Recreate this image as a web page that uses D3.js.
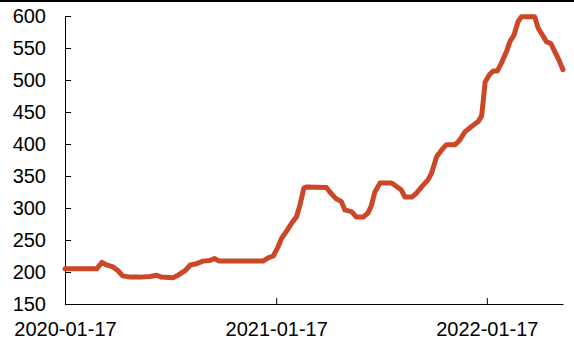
<!DOCTYPE html>
<html>
<head>
<meta charset="utf-8">
<script src="https://cdn.jsdelivr.net/npm/d3@7"></script>
<style>
  body { margin: 0; background: #fff; }
  text { font-family: "Liberation Sans", Arial, sans-serif; }
</style>
</head>
<body>
<div id="chart"></div>
<script>
const dates = [
  "2020-01-17","2020-03-12","2020-03-21","2020-03-29","2020-04-09","2020-04-18","2020-04-26",
  "2020-05-09","2020-05-26","2020-06-12","2020-06-24","2020-07-02","2020-07-22","2020-07-31",
  "2020-08-12","2020-08-21","2020-09-01","2020-09-12","2020-09-24","2020-10-02","2020-10-10",
  "2020-12-25","2021-01-03","2021-01-12","2021-01-20","2021-01-26","2021-02-04","2021-02-14",
  "2021-02-21","2021-02-27","2021-03-06","2021-03-11","2021-04-14","2021-04-20","2021-04-30",
  "2021-05-10","2021-05-16","2021-05-28","2021-06-05","2021-06-17","2021-06-25","2021-07-01",
  "2021-07-07","2021-07-16","2021-08-05","2021-08-16","2021-08-22","2021-08-28","2021-09-09",
  "2021-09-17","2021-09-26","2021-10-07","2021-10-13","2021-10-22","2021-10-31","2021-11-08",
  "2021-11-23","2021-11-30","2021-12-10","2021-12-21","2022-01-02","2022-01-08","2022-01-11",
  "2022-01-14","2022-01-22","2022-01-28","2022-02-04","2022-02-11","2022-02-20","2022-02-26",
  "2022-03-05","2022-03-12","2022-03-18","2022-04-10","2022-04-16","2022-04-25","2022-04-30",
  "2022-05-08","2022-05-15","2022-05-22","2022-05-29"
];
const values = [
  205,205,215,211,208,202,194,
  192,192,193,195,192,191,195,
  202,211,213,217,218,221,217,
  217,222,225,239,252,264,278,
  286,304,331,333,332,325,315,
  310,297,294,286,286,292,304,
  325,339,339,332,328,317,317,
  323,333,344,354,380,391,399,
  399,405,419,427,435,444,469,
  497,509,514,514,526,544,560,
  570,591,599,599,581,568,560,
  557,544,531,516
];
const yTicks = [150, 200, 250, 300, 350, 400, 450, 500, 550, 600];
const xTicks = ["2020-01-17", "2021-01-17", "2022-01-17"];

const parse = d3.timeParse("%Y-%m-%d");
const data = dates.map((d, i) => ({ date: parse(d), value: values[i] }));

const width = 574, height = 340;
const svg = d3.select("#chart").append("svg").attr("width", width).attr("height", height);

// top border
svg.append("rect").attr("x", 0).attr("y", 0).attr("width", width).attr("height", 2).attr("fill", "#000");

const x = d3.scaleTime().domain([parse("2020-01-17"), parse("2022-05-29")]).range([65, 563]);
const y = d3.scaleLinear().domain([150, 600]).range([304, 16]);

const xAxis = svg.append("g")
    .attr("transform", `translate(0,${y(150)})`)
    .call(d3.axisBottom(x).tickValues(xTicks.map(parse)).tickFormat(d3.timeFormat("%Y-%m-%d"))
        .tickSizeInner(-6).tickSizeOuter(0).tickPadding(18));

const yAxis = svg.append("g")
    .attr("transform", `translate(${x.range()[0]},0)`)
    .call(d3.axisLeft(y).tickValues(yTicks).tickSizeInner(-6).tickSizeOuter(0).tickPadding(19));

[xAxis, yAxis].forEach(a => {
    a.selectAll("text").attr("font-size", 20).attr("font-family", "Liberation Sans, Arial, sans-serif").attr("fill", "#000");
    a.selectAll("line,path").attr("stroke", "#000");
});

const line = d3.line().x(d => x(d.date)).y(d => y(d.value));

svg.append("path")
    .datum(data)
    .attr("fill", "none")
    .attr("stroke", "#CB4727")
    .attr("stroke-width", 5)
    .attr("stroke-linejoin", "round")
    .attr("stroke-linecap", "round")
    .attr("d", line);
</script>
</body>
</html>
